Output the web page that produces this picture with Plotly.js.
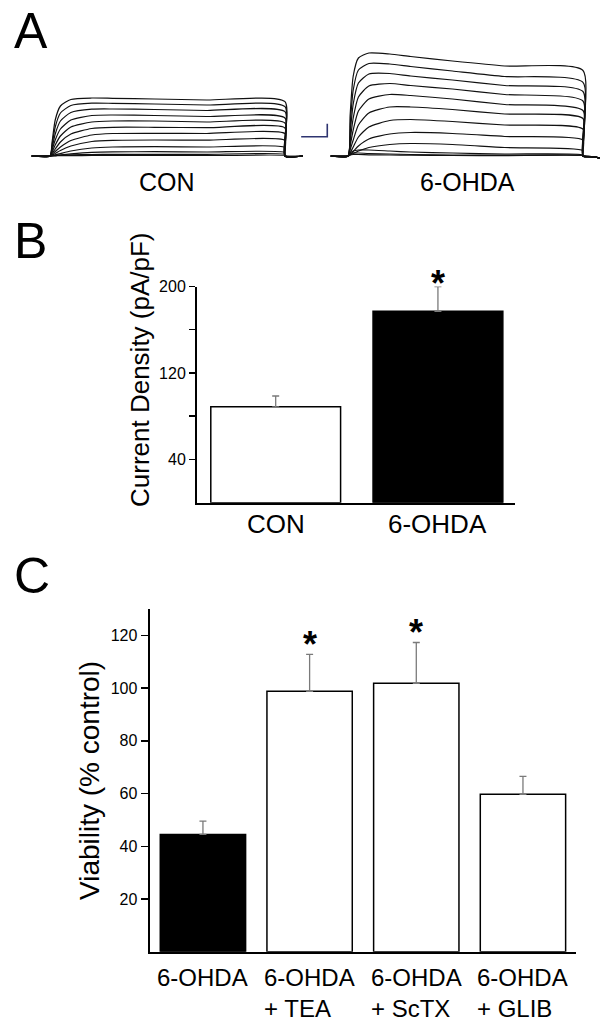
<!DOCTYPE html>
<html>
<head>
<meta charset="utf-8">
<script src="https://cdn.plot.ly/plotly-3.0.1.min.js"></script>
<style>html,body{margin:0;padding:0;background:#fff;}#chart{width:603px;height:1028px;}</style>
</head>
<body>
<div id="chart"></div>
<script>
// ---------- DATA ----------
// Panel A: whole-cell K+ current traces (time in ms after pulse onset; current in trace units, scale bar = 13 units)
const traceTimeMs = [0, 4, 10, 20, 40, 80, 120, 200, 300, 450];
const conTraces = [
  [0, 14, 36, 50, 56.5, 58, 57.7, 57, 56, 54.3],
  [0, 11, 29, 43, 50.5, 52.8, 52.7, 52, 51, 49.3],
  [0, 8, 22, 35, 43.5, 46.8, 47, 46.5, 45.5, 44.3],
  [0, 6, 16, 27, 36, 40.5, 41, 40.5, 39.5, 38],
  [0, 4, 11, 20, 29, 34, 35, 35, 34, 33],
  [0, 2.5, 7, 14, 22, 27.5, 28.7, 28.7, 28.3, 28],
  [0, 1.5, 4.5, 9, 15.5, 21, 22.5, 22.7, 22.5, 22.3],
  [0, 1, 2.5, 5.5, 10, 14.5, 15.7, 16, 15.8, 15.5],
  [0, 0.5, 1.2, 2.5, 5, 8, 9, 9.3, 9, 8.5],
  [0, 0.3, 0.6, 1.2, 2.2, 3.6, 4.1, 4.3, 4, 3.5],
  [0, 0.2, 0.4, 0.7, 1.1, 1.5, 1.7, 1.7, 1.7, 1.7],
  [0, 0.1, 0.2, 0.3, 0.4, 0.5, 0.5, 0.5, 0.5, 0.5]
];
const ohdaTraces = [
  [0, 40, 80, 98, 103, 102, 99.5, 95, 90, 85.5],
  [0, 30, 66, 86, 92.5, 92, 89.5, 85, 79.5, 73.7],
  [0, 22, 52, 73, 82, 82.5, 80, 76, 70.5, 64.5],
  [0, 15, 38, 59, 70, 72.5, 70.5, 67, 61.5, 55],
  [0, 10, 26, 45, 57, 61.5, 60.5, 57, 51.5, 45.5],
  [0, 6, 16, 31, 43, 49, 49, 46.5, 42, 37.5],
  [0, 3, 9, 19, 29, 35.5, 36.5, 34.5, 31, 27],
  [0, 1.5, 4.5, 10, 17, 22, 23.5, 22.5, 19.5, 16],
  [0, 1, 2.5, 5, 8.5, 11.5, 12.5, 11.5, 8.5, 5.5],
  [0, 3, 5, 6, 6, 5, 4, 3, 2, 1.2],
  [0, 2, 3, 3, 2.5, 2, 1.5, 1, 0.8, 0.6],
  [0, 1, 1.5, 1.5, 1.2, 1, 0.8, 0.5, 0.4, 0.3]
];
const conBaselineMs = [-35, 484];      // baseline before onset / after pulse
const ohdaBaselineMs = [-33, 482];
const ohdaTailTime = [450, 466, 482];  // small tail after the pulse
const ohdaTailAmp = [0, -0.6, -2];
const scaleBarMs = 50;
const scaleBarAmp = 13;

// Panel B: current density (pA/pF)
const bCategories = ['CON', '6-OHDA'];
const bValues = [88.7, 177];
const bErrors = [10, 23];
const bSignificant = [false, true];
const bTickVals = [40, 80, 120, 160, 200];
const bTickText = ['40', '', '120', '', '200'];

// Panel C: viability (% control)
const cCategories = ['6-OHDA', '6-OHDA + TEA', '6-OHDA + ScTX', '6-OHDA + GLIB'];
const cLabels = ['6-OHDA', '6-OHDA<br>+ TEA', '6-OHDA<br>+ ScTX', '6-OHDA<br>+ GLIB'];
const cValues = [44.5, 98.8, 101.8, 59.7];
const cErrors = [5, 14, 15.5, 6.8];
const cSignificant = [false, true, true, false];
const cTickVals = [20, 40, 60, 80, 100, 120];

// ---------- STYLE ----------
const W = 603, H = 1028;
const FONT = 'Arial, "Liberation Sans", Helvetica, sans-serif';
const bColors = ['#ffffff', '#000000'];
const cColors = ['#000000', '#ffffff', '#ffffff', '#ffffff'];
const fx = p => p / W;
const fy = p => 1 - p / H;
const MS_PER_PX = 1.915;

const data = [];
function addTrace(ts, vals, pre, post, xa, ya, tailT, tailA) {
  const x = [pre].concat(ts);
  const y = [0].concat(vals);
  if (tailT) { x.push(...tailT); y.push(...tailA); }
  else { x.push(ts[ts.length - 1], post); y.push(0, 0); }
  data.push({type: 'scatter', mode: 'lines', x: x, y: y, xaxis: xa, yaxis: ya,
    line: {color: '#111', width: 1.2, shape: 'spline', smoothing: 0.6}, hoverinfo: 'skip'});
}
conTraces.forEach(v => addTrace(traceTimeMs, v, conBaselineMs[0], conBaselineMs[1], 'x3', 'y3'));
ohdaTraces.forEach(v => addTrace(traceTimeMs, v, ohdaBaselineMs[0], ohdaBaselineMs[1], 'x4', 'y4', ohdaTailTime, ohdaTailAmp));
// scale bar (placed right after the CON record)
const sbX0 = 481, sbY0 = 19.3;
data.push({type: 'scatter', mode: 'lines', xaxis: 'x3', yaxis: 'y3',
  x: [sbX0, sbX0 + scaleBarMs, sbX0 + scaleBarMs], y: [sbY0, sbY0, sbY0 + scaleBarAmp],
  line: {color: '#2e3470', width: 1.6}, hoverinfo: 'skip', cliponaxis: false});

// Panel B bars
data.push({type: 'bar', x: bCategories, y: bValues, xaxis: 'x', yaxis: 'y', width: 0.8,
  marker: {color: bColors, line: {color: '#000', width: 1.5}},
  error_y: {type: 'data', symmetric: false, array: bErrors, arrayminus: bErrors.map(() => 0),
    color: '#7a7a7a', thickness: 1.3, width: 3.5}, hoverinfo: 'skip'});
// Panel C bars
data.push({type: 'bar', x: cCategories, y: cValues, xaxis: 'x2', yaxis: 'y2', width: 0.8,
  marker: {color: cColors, line: {color: '#000', width: 1.5}},
  error_y: {type: 'data', symmetric: false, array: cErrors, arrayminus: cErrors.map(() => 0),
    color: '#7a7a7a', thickness: 1.3, width: 3.5}, hoverinfo: 'skip'});

const annotations = [];
function txt(text, xpx, ypx, size, opts) {
  annotations.push(Object.assign({text: text, xref: 'paper', yref: 'paper', x: fx(xpx), y: fy(ypx),
    showarrow: false, font: {family: FONT, size: size, color: '#000'}, xanchor: 'center', yanchor: 'middle'}, opts || {}));
}
// panel letters
txt('A', 12, 31, 50, {xanchor: 'left'});
txt('B', 12, 241, 50, {xanchor: 'left'});
txt('C', 12, 576, 50, {xanchor: 'left'});
// panel A labels
txt('CON', 167, 182, 25);
txt('6-OHDA', 467, 182, 25);
// y titles
txt('Current Density (pA/pF)', 140, 370, 26, {textangle: -90});
txt('Viability (% control)', 89, 781, 28, {textangle: -90});
// B x labels
bCategories.forEach((c, i) => annotations.push({text: c, xref: 'x', yref: 'paper', x: c, y: fy(524),
  showarrow: false, xanchor: 'center', yanchor: 'middle', font: {family: FONT, size: 26, color: '#000'}}));
// C x labels
cCategories.forEach((c, i) => annotations.push({text: cLabels[i], xref: 'x2', yref: 'paper', x: c, y: fy(962),
  showarrow: false, xanchor: 'center', yanchor: 'top', align: 'left', font: {family: FONT, size: 24, color: '#000'}}));
// significance stars
bCategories.forEach((c, i) => { if (bSignificant[i]) annotations.push({text: '<b>*</b>', xref: 'x', yref: 'y',
  x: c, y: bValues[i] + bErrors[i], yanchor: 'bottom', yshift: -19, showarrow: false,
  font: {family: FONT, size: 36, color: '#000'}}); });
cCategories.forEach((c, i) => { if (cSignificant[i]) annotations.push({text: '<b>*</b>', xref: 'x2', yref: 'y2',
  x: c, y: cValues[i] + cErrors[i], yanchor: 'bottom', yshift: -13, showarrow: false,
  font: {family: FONT, size: 36, color: '#000'}}); });

const hiddenAxis = {visible: false, fixedrange: true};
const layout = {
  width: W, height: H, margin: {l: 0, r: 0, t: 0, b: 0},
  paper_bgcolor: '#fff', plot_bgcolor: 'rgba(0,0,0,0)', showlegend: false,
  font: {family: FONT, color: '#000'},
  // Panel B
  xaxis: {domain: [fx(197), fx(515)], range: [-0.485, 1.475], type: 'category', showline: true, linewidth: 2,
    linecolor: '#000', ticks: '', showticklabels: false, showgrid: false, zeroline: false, fixedrange: true, anchor: 'y'},
  yaxis: {domain: [fy(502.7), fy(286.5)], range: [0, 200], showline: true, linewidth: 2, linecolor: '#000',
    ticks: 'outside', ticklen: 6, tickwidth: 1.5, tickcolor: '#000', tickvals: bTickVals, ticktext: bTickText,
    tickfont: {family: FONT, size: 16, color: '#000'}, showgrid: false, zeroline: false, fixedrange: true, anchor: 'x'},
  // Panel C
  xaxis2: {domain: [fx(149.6), fx(576.3)], range: [-0.5, 3.5], type: 'category', showline: true, linewidth: 2,
    linecolor: '#000', ticks: '', showticklabels: false, showgrid: false, zeroline: false, fixedrange: true, anchor: 'y2'},
  yaxis2: {domain: [fy(951.7), fy(609)], range: [0, 130], showline: true, linewidth: 2, linecolor: '#000',
    ticks: 'outside', ticklen: 7, tickwidth: 1.5, tickcolor: '#000', tickvals: cTickVals,
    tickfont: {family: FONT, size: 16, color: '#000'}, showgrid: false, zeroline: false, fixedrange: true, anchor: 'x2'},
  // Panel A (CON record + scale bar, 6-OHDA record) on the same time/current scale
  xaxis3: Object.assign({domain: [fx(30), fx(330)], range: [(30 - 50) * MS_PER_PX, (330 - 50) * MS_PER_PX], anchor: 'y3'}, hiddenAxis),
  yaxis3: Object.assign({domain: [fy(170), fy(40)], range: [-14, 116], anchor: 'x3'}, hiddenAxis),
  xaxis4: Object.assign({domain: [fx(330), fx(603)], range: [(330 - 348) * MS_PER_PX, (603 - 348) * MS_PER_PX], anchor: 'y4'}, hiddenAxis),
  yaxis4: Object.assign({domain: [fy(170), fy(40)], range: [-14, 116], anchor: 'x4'}, hiddenAxis),
  bargap: 0.2,
  annotations: annotations
};
Plotly.newPlot('chart', data, layout, {staticPlot: true, displayModeBar: false});
</script>
</body>
</html>
